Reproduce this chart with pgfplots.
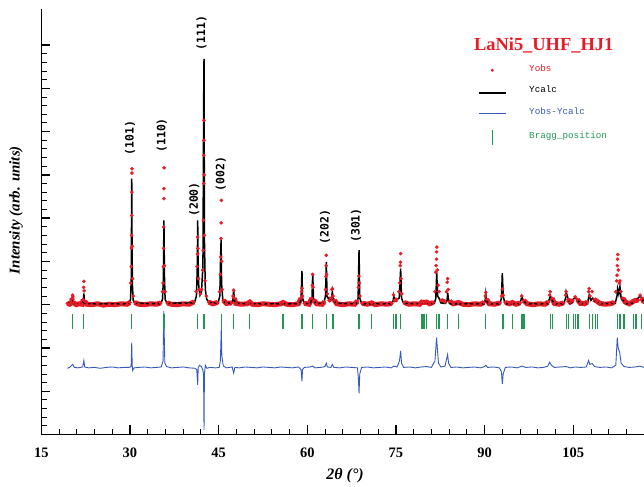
\documentclass[border=0pt]{standalone}
\usepackage{fontspec}
\setmainfont{Liberation Serif}
\newfontfamily\monof{Liberation Mono}
\newfontfamily\hklf{DejaVu Sans Mono}
\usepackage{pgfplots}
\pgfplotsset{compat=1.18}
\usepackage{pgfplotstable}

\definecolor{obsred}{RGB}{232,28,38}
\definecolor{diffblue}{RGB}{55,90,185}
\definecolor{braggreen}{RGB}{35,150,85}

% observed intensity
\pgfplotstableread{
x y
19.4 0.03
19.8 0.01
20.1 0.04
20.25 0.15
20.3 0.22
20.35 0.18
20.5 0.05
20.9 0.00
21.4 0.02
21.9 0.01
22.1 0.12
22.15 0.40
22.2 0.54
22.25 0.32
22.35 0.08
22.7 0.01
23.5 0.00
24.5 0.02
25.5 -0.01
26.5 0.01
27.5 0.00
28.5 0.02
29.5 0.01
30.0 0.05
30.15 0.50
30.22 0.88
30.26 1.31
30.28 1.60
30.30 2.06
30.32 2.60
30.34 3.04
30.36 3.14
30.40 1.35
30.45 0.60
30.55 0.20
30.8 0.05
31.5 0.01
32.5 0.00
33.5 0.02
34.5 0.01
35.2 0.04
35.5 0.30
35.6 0.50
35.65 0.88
35.68 1.30
35.70 1.79
35.73 2.45
35.75 2.68
35.77 3.16
35.85 0.90
35.95 0.30
36.3 0.04
37.0 0.01
38.0 0.00
39.0 0.02
40.0 0.01
40.8 0.06
41.2 0.30
41.35 0.88
41.42 1.17
41.46 1.56
41.50 1.30
41.58 0.60
41.7 0.35
41.9 0.25
42.1 0.35
42.3 0.80
42.4 1.25
42.45 1.95
42.48 2.80
42.50 3.45
42.52 3.80
42.54 4.26
42.56 3.00
42.60 1.60
42.7 0.55
42.9 0.20
43.3 0.06
44.0 0.02
44.8 0.05
45.15 0.30
45.3 0.70
45.35 1.10
45.40 1.53
45.43 1.89
45.46 2.41
45.52 1.00
45.6 0.35
45.8 0.10
46.3 0.03
47.2 0.04
47.45 0.20
47.55 0.33
47.65 0.15
47.9 0.03
48.8 0.01
49.8 0.02
50.26 0.06
50.7 0.01
51.5 0.00
52.5 0.02
53.5 0.01
54.5 0.00
55.5 0.02
55.9 0.05
56.5 0.01
57.5 0.00
58.5 0.02
58.95 0.15
59.05 0.30
59.1 0.38
59.2 0.20
59.5 0.03
60.3 0.01
60.75 0.15
60.85 0.45
60.92 0.70
61.0 0.40
61.15 0.10
61.6 0.02
62.5 0.01
62.9 0.06
63.1 0.35
63.15 0.65
63.2 0.90
63.22 1.14
63.28 0.70
63.4 0.25
63.7 0.10
64.05 0.15
64.2 0.35
64.25 0.37
64.35 0.20
64.6 0.10
65.0 0.02
66.0 0.00
67.0 0.02
68.0 0.01
68.5 0.08
68.65 0.40
68.74 0.66
68.8 0.50
68.9 0.20
69.3 0.03
70.2 0.01
70.9 0.04
71.5 0.00
72.5 0.02
73.5 0.01
74.3 0.03
74.6 0.23
74.8 0.10
75.1 0.12
75.5 0.30
75.65 0.50
75.72 0.90
75.76 0.98
75.8 1.18
75.88 0.60
76.0 0.25
76.4 0.05
77.2 0.01
78.2 0.02
79.0 0.01
79.4 0.06
79.75 0.05
80.2 0.06
80.7 0.02
81.3 0.05
81.6 0.30
81.75 0.75
81.8 0.90
81.85 1.05
81.88 1.22
81.92 1.33
82.0 0.80
82.15 0.45
82.3 0.30
82.6 0.10
83.3 0.06
83.55 0.30
83.68 0.52
83.75 0.60
83.85 0.35
84.1 0.08
84.7 0.02
85.6 0.05
86.3 0.01
87.3 0.00
88.3 0.02
89.3 0.01
89.9 0.05
90.1 0.20
90.2 0.28
90.35 0.12
90.8 0.02
91.7 0.01
92.6 0.04
92.85 0.20
93.0 0.36
93.15 0.22
93.5 0.05
94.2 0.02
94.7 0.05
95.3 0.01
96.0 0.04
96.3 0.20
96.6 0.10
97.2 0.02
98.2 0.00
99.2 0.02
100.2 0.01
100.8 0.06
101.0 0.22
101.1 0.30
101.4 0.15
101.8 0.03
102.6 0.01
103.4 0.04
103.7 0.22
103.8 0.30
104.1 0.12
104.5 0.06
104.9 0.10
105.3 0.18
105.7 0.12
106.2 0.03
106.9 0.02
107.4 0.06
107.6 0.30
107.7 0.37
107.85 0.20
108.2 0.30
108.5 0.12
109.0 0.08
109.5 0.03
110.3 0.01
111.2 0.02
111.9 0.05
112.2 0.30
112.35 0.55
112.42 0.68
112.46 0.90
112.5 1.05
112.54 1.16
112.62 0.80
112.8 0.50
112.9 0.55
113.05 0.30
113.4 0.15
113.8 0.06
114.5 0.02
115.2 0.08
115.6 0.10
116.0 0.10
116.3 0.22
116.6 0.15
117.0 0.05
}\obs

% calculated intensity
\pgfplotstableread{
x y
19.4 0.05
20.0 0.02
20.15 0.03
20.3 0.08
20.45 0.03
20.7 0.02
21.9 0.02
22.08 0.05
22.2 0.26
22.32 0.05
22.5 0.02
29.8 0.02
30.1 0.12
30.22 0.60
30.3 2.91
30.36 1.20
30.42 0.45
30.55 0.10
30.9 0.03
35.2 0.02
35.5 0.12
35.65 0.55
35.75 1.95
35.83 0.70
35.95 0.12
36.3 0.03
40.9 0.04
41.25 0.20
41.4 0.90
41.46 1.95
41.52 1.00
41.65 0.40
41.85 0.22
42.1 0.30
42.35 0.90
42.47 4.68
42.53 5.68
42.6 1.50
42.75 0.35
43.0 0.12
43.5 0.05
44.9 0.03
45.2 0.20
45.35 1.19
45.42 1.49
45.5 0.50
45.7 0.12
46.1 0.04
47.2 0.03
47.45 0.12
47.55 0.37
47.65 0.12
47.9 0.03
50.0 0.02
50.26 0.05
50.5 0.02
55.7 0.02
55.9 0.04
56.1 0.02
58.7 0.02
58.95 0.12
59.1 0.78
59.2 0.15
59.5 0.03
60.5 0.02
60.8 0.15
60.92 0.73
61.05 0.15
61.4 0.03
62.8 0.03
63.08 0.20
63.22 0.98
63.35 0.20
63.8 0.08
64.1 0.15
64.24 0.30
64.4 0.10
64.5 0.12
64.8 0.03
68.3 0.02
68.6 0.15
68.76 1.26
68.88 0.15
69.2 0.02
70.7 0.02
70.9 0.04
71.1 0.02
74.3 0.02
74.55 0.10
74.63 0.20
74.8 0.08
75.0 0.10
75.55 0.15
75.8 0.83
75.95 0.15
76.3 0.03
79.2 0.02
79.5 0.05
79.8 0.04
80.2 0.05
80.5 0.02
81.5 0.03
81.75 0.15
81.9 0.74
82.05 0.20
82.3 0.15
82.6 0.04
83.4 0.03
83.65 0.10
83.77 0.27
83.9 0.08
84.2 0.02
85.4 0.02
85.6 0.04
85.8 0.02
89.9 0.02
90.1 0.10
90.2 0.25
90.35 0.08
90.6 0.02
92.6 0.02
92.85 0.15
93.0 0.73
93.15 0.20
93.4 0.05
93.7 0.02
94.5 0.02
94.7 0.04
94.9 0.02
96.0 0.02
96.3 0.19
96.5 0.10
96.8 0.06
97.1 0.02
100.7 0.02
101.0 0.15
101.1 0.21
101.45 0.10
101.8 0.02
103.4 0.02
103.7 0.15
103.8 0.29
104.2 0.10
104.5 0.03
104.8 0.05
105.0 0.12
105.35 0.17
105.7 0.10
105.9 0.08
106.2 0.02
107.4 0.03
107.7 0.22
108.0 0.10
108.3 0.15
108.7 0.08
109.1 0.06
109.5 0.02
112.1 0.03
112.4 0.20
112.5 0.37
112.7 0.25
112.9 0.42
113.1 0.15
113.6 0.08
114.0 0.02
115.0 0.03
115.2 0.08
115.6 0.10
116.3 0.20
116.6 0.15
117.0 0.05
}\calc

% difference Yobs-Ycalc (shifted)
\pgfplotstableread{
x y
19.4 -1.47
19.8 -1.45
20.3 -1.38
20.6 -1.45
21.2 -1.46
22.0 -1.44
22.2 -1.29
22.35 -1.44
23.0 -1.46
24.0 -1.45
25.0 -1.47
26.0 -1.45
27.0 -1.44
28.0 -1.46
29.0 -1.45
29.9 -1.45
30.2 -1.42
30.3 -0.88
30.38 -1.40
30.45 -1.52
30.7 -1.46
31.5 -1.45
32.5 -1.44
33.5 -1.46
34.5 -1.45
35.3 -1.44
35.6 -1.30
35.72 -0.15
35.8 -0.70
35.9 -1.35
36.2 -1.43
37.0 -1.46
38.0 -1.45
39.0 -1.44
40.0 -1.46
41.0 -1.47
41.3 -1.50
41.46 -1.85
41.55 -1.45
41.8 -1.40
42.1 -1.43
42.3 -1.50
42.45 -1.60
42.53 -2.90
42.6 -1.60
42.75 -1.40
43.0 -1.47
43.5 -1.45
44.5 -1.46
45.1 -1.45
45.3 -1.30
45.45 -0.55
45.55 -1.20
45.8 -1.42
46.3 -1.46
47.3 -1.44
47.55 -1.58
47.75 -1.45
48.5 -1.46
49.5 -1.44
50.5 -1.45
51.5 -1.46
52.5 -1.44
53.5 -1.45
54.5 -1.46
55.5 -1.44
56.5 -1.45
57.5 -1.46
58.5 -1.44
58.95 -1.50
59.1 -1.77
59.2 -1.50
59.5 -1.45
60.5 -1.44
60.92 -1.42
61.3 -1.46
62.3 -1.45
63.0 -1.43
63.22 -1.35
63.4 -1.44
64.0 -1.45
64.24 -1.38
64.5 -1.45
65.5 -1.46
66.5 -1.44
67.5 -1.45
68.5 -1.46
68.65 -1.70
68.76 -2.05
68.88 -1.60
69.2 -1.45
70.2 -1.44
71.2 -1.46
72.2 -1.45
73.2 -1.44
74.2 -1.46
74.63 -1.42
75.2 -1.44
75.6 -1.30
75.8 -1.07
75.95 -1.35
76.3 -1.45
77.3 -1.44
78.3 -1.46
79.3 -1.44
80.2 -1.43
81.0 -1.45
81.6 -1.30
81.88 -0.76
82.0 -1.00
82.2 -1.35
82.6 -1.44
83.3 -1.42
83.75 -1.15
83.9 -1.35
84.3 -1.45
85.3 -1.44
86.3 -1.46
87.3 -1.45
88.3 -1.44
89.3 -1.46
90.0 -1.43
90.2 -1.40
90.5 -1.45
91.5 -1.44
92.5 -1.46
92.85 -1.55
93.0 -1.83
93.15 -1.60
93.5 -1.45
94.5 -1.44
95.5 -1.46
96.3 -1.42
97.0 -1.45
98.0 -1.44
99.0 -1.46
100.0 -1.45
100.7 -1.42
101.0 -1.33
101.3 -1.40
101.8 -1.45
102.8 -1.44
103.8 -1.43
104.5 -1.46
105.3 -1.44
106.3 -1.45
107.2 -1.44
107.6 -1.29
107.8 -1.38
108.2 -1.36
108.6 -1.43
109.5 -1.45
110.5 -1.44
111.5 -1.46
112.2 -1.40
112.45 -0.76
112.6 -1.00
112.85 -1.10
113.1 -1.35
113.6 -1.43
114.5 -1.45
115.5 -1.44
116.3 -1.42
117.0 -1.45
}\diff

% Bragg positions
\pgfplotstableread{
x y
20.3 -0.386
22.2 -0.386
30.3 -0.386
35.75 -0.386
41.46 -0.386
42.53 -0.386
45.45 -0.386
47.55 -0.386
50.26 -0.386
55.9 -0.386
59.1 -0.386
60.92 -0.386
63.22 -0.386
64.24 -0.386
64.5 -0.386
68.76 -0.386
70.9 -0.386
74.63 -0.386
75.0 -0.386
75.8 -0.386
79.4 -0.386
79.75 -0.386
80.2 -0.386
81.9 -0.386
82.3 -0.386
83.77 -0.386
85.6 -0.386
90.2 -0.386
93.0 -0.386
93.2 -0.386
94.7 -0.386
96.3 -0.386
96.5 -0.386
96.8 -0.386
101.1 -0.386
101.45 -0.386
103.8 -0.386
104.2 -0.386
105.0 -0.386
105.35 -0.386
105.7 -0.386
105.9 -0.386
107.7 -0.386
108.3 -0.386
108.7 -0.386
109.1 -0.386
112.5 -0.386
112.9 -0.386
113.6 -0.386
115.2 -0.386
115.6 -0.386
116.6 -0.386
}\bragg

\begin{document}
\begin{tikzpicture}
\useasboundingbox (0,0) rectangle (644bp,487bp);
\begin{axis}[
    at={(41.3bp,52.5bp)}, anchor=south west,
    scale only axis, width=620.6bp, height=425bp,
    xmin=15, xmax=120, ymin=-3, ymax=6.82,
    axis lines=left,
    axis line style={line width=1.4bp, -},
    xtick={15,30,...,120}, minor x tick num=4,
    xticklabels={15,30,45,60,75,90,105,{}},
    ytick={-3,-2,...,6}, minor y tick num=4,
    yticklabels={},
    tick align=inside,
    major tick length=9bp, minor tick length=5.5bp,
    major tick style={line width=1.4bp, black},
    minor tick style={line width=0.8bp, black},
    xticklabel style={font=\bfseries\fontsize{14.5}{15}\selectfont, yshift=-10bp},
    xlabel={2θ (°)},
    xlabel style={font=\bfseries\itshape\fontsize{16}{17}\selectfont,
        at={(axis description cs:0.4895,-0.0976)}, anchor=center},
    ylabel={Intensity (arb. units)},
    ylabel style={font=\bfseries\itshape\fontsize{15}{16}\selectfont,
        at={(axis description cs:-0.0408,0.528)}, anchor=center},
    clip=false,
    legend style={draw=none, fill=none, inner sep=0pt, outer sep=0pt,
        at={(axis description cs:0.7037,0.8711)}, anchor=north west,
        font=\monof\fontsize{9.3}{10}\selectfont,
        row sep=11.7bp, column sep=22.7bp,
        nodes={inner sep=0pt, text height=7bp, text depth=3bp}},
    legend cell align=left,
]
% band of observed points near the background
\addplot[obsred, line width=5bp, restrict y to domain=-1:0.17,
    unbounded coords=jump, forget plot] table {\obs};
\addplot[only marks, mark=*, mark size=1.6bp, color=obsred,
    legend image code/.code={\path[draw=none,fill=none] (0,-1bp) -- (27bp,-1bp);
        \path[draw=none,fill=obsred] (13.5bp,-1bp) circle (1.6bp);}] table {\obs};
\addlegendentry{\textcolor{obsred}{Yobs}}
\addplot[black, line width=1.5bp,
    legend image code/.code={\draw[black, line width=1.5bp] (0,-1.8bp) -- (27bp,-1.8bp);}] table {\calc};
\addlegendentry{Ycalc}
\addplot[diffblue, line width=0.9bp,
    legend image code/.code={\draw[diffblue, line width=1bp] (0,-1bp) -- (27bp,-1bp);}] table {\diff};
\addlegendentry{\textcolor{diffblue}{Yobs-Ycalc}}
\addplot[only marks, mark=|, mark size=7.8bp, color=braggreen,
    mark options={line width=1.2bp},
    legend image code/.code={\path[draw=none,fill=none] (0,0) -- (27bp,0);
        \draw[braggreen, line width=1.2bp] (14bp,-8.5bp) -- (14bp,6.5bp);}] table {\bragg};
\addlegendentry{\textcolor{braggreen}{Bragg\_position}}

\node[font=\bfseries\fontsize{18.5}{19}\selectfont, text=obsred] at (axis cs:100,6.0) {LaNi5\_UHF\_HJ1};

\begin{scope}[every node/.style={rotate=90, font=\hklf\bfseries\fontsize{11.5}{12}\selectfont}]
\node at (axis cs:30.0,3.85) {(101)};
\node at (axis cs:35.4,3.91) {(110)};
\node at (axis cs:40.9,2.43) {(200)};
\node at (axis cs:42.1,6.28) {(111)};
\node at (axis cs:45.36,3.02) {(002)};
\node at (axis cs:63.0,1.80) {(202)};
\node at (axis cs:68.25,1.83) {(301)};
\end{scope}
\end{axis}
\end{tikzpicture}
\end{document}
